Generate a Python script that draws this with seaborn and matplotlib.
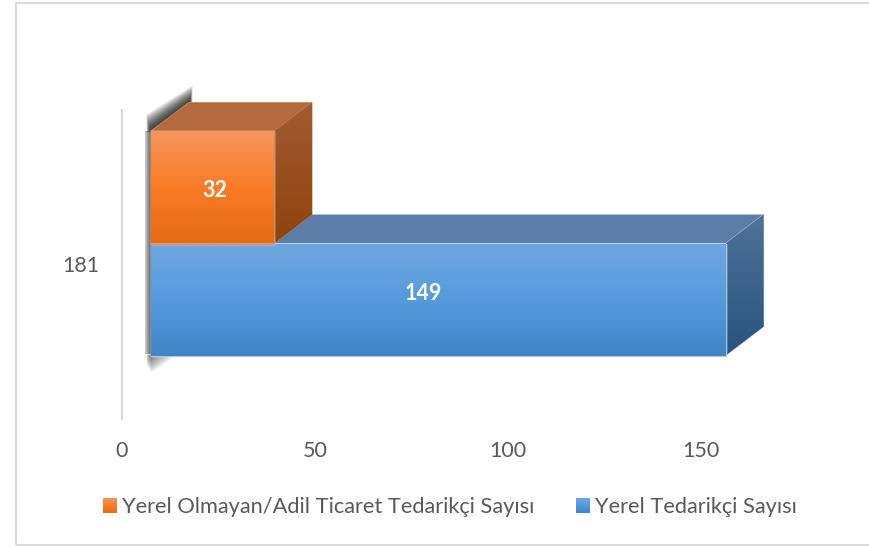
import numpy as np
import pandas as pd
import matplotlib
matplotlib.use("Agg")
import matplotlib.pyplot as plt
import seaborn as sns
from matplotlib.colors import to_rgb
from matplotlib.patches import Patch, Polygon, Rectangle
from matplotlib.transforms import Affine2D, IdentityTransform

# chart data
categories = ["181"]
series_names = ["Yerel Olmayan/Adil Ticaret Tedarikçi Sayısı", "Yerel Tedarikçi Sayısı"]
series_values = [32, 149]
x_ticks = [0, 50, 100, 150]

# colours: top / middle / bottom of each face
FRONT = [["#F5955F", "#FA7C26", "#E46A13"], ["#71A6DF", "#559BDD", "#4085C6"]]
SIDE = [["#A25C33", "#8F430E"], ["#4F7298", "#275480"]]
TOP = ["#B5693F", "#5A7EA8"]
EDGE = ["#C48760", "#A8C8E8"]
TEXT = "#595959"
LINE = "#D9D9D9"

W, H = 870, 547
DEPTH = (38, 29)        # px, 3D depth of the boxes
WALL = (28.5, 21)       # px, front faces sit off the axis


def px(x, y):
    # picture pixel -> display coords
    return x, H - y


def gradient_face(ax, pts, stops, zorder, edge=None):
    pts = np.asarray(pts)
    poly = Polygon(pts, closed=True, transform=IdentityTransform(), facecolor=stops[0],
                   edgecolor=edge or "none", linewidth=0.6, zorder=zorder, clip_on=False)
    ax.add_patch(poly)
    if len(stops) > 1:
        pos = np.linspace(0, 1, 64)
        anchors = np.linspace(0, 1, len(stops))
        rgb = np.array([to_rgb(c) for c in stops])
        img = np.stack([np.interp(pos, anchors, rgb[:, i]) for i in range(3)], axis=1)[:, None, :]
        extent = (pts[:, 0].min(), pts[:, 0].max(), pts[:, 1].min(), pts[:, 1].max())
        im = ax.imshow(img, extent=extent, origin="upper", aspect="auto", transform=IdentityTransform(),
                       zorder=zorder + 0.1, interpolation="bilinear")
        im.set_clip_box(fig.bbox)
        im.set_clip_path(poly)
    return poly


def soft_poly(ax, pts, alpha):
    ax.add_patch(Polygon(pts, closed=True, transform=IdentityTransform(), facecolor="black", edgecolor="none",
                         alpha=alpha, zorder=1, clip_on=False))


sns.set_style("white")
plt.rcParams["font.family"] = ["Lato", "DejaVu Sans"]

df = pd.DataFrame({
    "kategori": categories * len(series_names),
    "seri": series_names,
    "deger": series_values,
})

fig = plt.figure(figsize=(W / 100, H / 100), dpi=100)
ax = fig.add_axes([122 / W, 1 - 419 / H, 579 / 150 * 165 / W, 309 / H])
ax.patch.set_alpha(0)

sns.barplot(data=df, y="kategori", x="deger", hue="seri", hue_order=series_names,
            palette=[f[1] for f in FRONT], width=0.725, gap=0, legend=False, saturation=1, ax=ax)

ax.set_xlim(0, 165)
ax.set_ylim(0.5, -0.5)
ax.set_autoscale_on(False)
ax.set_xticks(x_ticks)
ax.set(xlabel="", ylabel="")
ax.tick_params(axis="both", length=0, labelsize=15.5, labelcolor=TEXT)
ax.tick_params(axis="x", pad=15.5)
ax.tick_params(axis="y", pad=16)
sns.despine(ax=ax, left=False, bottom=True)
ax.spines["left"].set_color(LINE)
ax.spines["left"].set_linewidth(1.5)

front = ax.transData + Affine2D().translate(WALL[0], WALL[1])

# shadow on the back wall, under the boxes
blue_bar = ax.containers[1][0]
orange_bar = ax.containers[0][0]
ox0, oy0 = front.transform((orange_bar.get_x(), orange_bar.get_y()))
bx0, by1 = front.transform((blue_bar.get_x(), blue_bar.get_y() + blue_bar.get_height()))
for t in np.linspace(1, 0.06, 16):
    d = 17 * t
    soft_poly(ax, [(ox0 - 4 * t, oy0 - 1), (ox0 + DEPTH[0] + 1 + 3 * t, oy0 + DEPTH[1]),
                   (ox0 + DEPTH[0] + 1 + 3 * t, oy0 + DEPTH[1] + d), (ox0 - 4 * t, oy0 + d)], 0.08)
for d in np.linspace(6, 1, 7):
    soft_poly(ax, [(ox0 - d, oy0), (ox0, oy0), (bx0, by1 + 2), (bx0 - d, by1 + 2)], 0.11)
for t in np.linspace(1, 0.1, 9):
    soft_poly(ax, [(bx0 - 4 * t, by1 + 1), (bx0 + 27 * t, by1 + 1), (bx0 + 1, by1 - 17 * t),
                   (bx0 - 4 * t, by1 - 8 * t)], 0.07)

# the 3D boxes, built on the seaborn bars; blue goes first so orange sits on top of it
for idx, z in ((1, 2), (0, 5)):
    bar = ax.containers[idx][0]
    x0, y_top = front.transform((bar.get_x(), bar.get_y()))
    x1, y_bot = front.transform((bar.get_x() + bar.get_width(), bar.get_y() + bar.get_height()))
    dx, dy = DEPTH
    gradient_face(ax, [(x0, y_top), (x0 + dx, y_top + dy), (x1 + dx, y_top + dy), (x1, y_top)],
                  [TOP[idx]], z, EDGE[idx])
    gradient_face(ax, [(x1, y_top), (x1 + dx, y_top + dy), (x1 + dx, y_bot + dy), (x1, y_bot)],
                  SIDE[idx], z, EDGE[idx])
    bar.set_transform(front)
    bar.set_zorder(z + 1)
    gradient_face(ax, [(x0, y_top), (x1, y_top), (x1, y_bot), (x0, y_bot)], FRONT[idx], z + 1, EDGE[idx])

# value labels, Excel leaves them off the bar centres
label_nudges = [(3, -3), (-15, 6)]
for idx, val in enumerate(series_values):
    bar = ax.containers[idx][0]
    xy = (bar.get_x() + bar.get_width() / 2, bar.get_y() + bar.get_height() / 2)
    ax.annotate(str(val), xy=xy, xycoords=front, xytext=label_nudges[idx], textcoords="offset pixels",
                ha="center", va="center", color="white", fontsize=15.5, fontweight="bold", zorder=10)

# legend, swatches get their gradient after the layout is known
handles = [Patch(facecolor=f[1], label=n) for f, n in zip(FRONT, series_names)]
leg = ax.legend(handles=handles, ncols=2, loc="center", bbox_to_anchor=(450 / W, 1 - 507 / H),
                bbox_transform=fig.transFigure, frameon=False, fontsize=15.7, labelcolor=TEXT,
                handlelength=0.65, handleheight=0.65, handletextpad=0.23, columnspacing=1.9, borderpad=0)
leg.set_zorder(6)
fig.canvas.draw()
for patch, stops in zip(leg.get_patches(), FRONT):
    bb = patch.get_window_extent()
    patch.set_alpha(0)
    gradient_face(ax, [(bb.x0, bb.y1), (bb.x1, bb.y1), (bb.x1, bb.y0), (bb.x0, bb.y0)], stops, 11)

# outer chart frame, right side runs off the picture
fx0, fy0 = px(16, 545)
fx1, fy1 = px(890, 3)
fig.add_artist(Rectangle((fx0, fy0), fx1 - fx0, fy1 - fy0, transform=IdentityTransform(), fill=False,
                         edgecolor=LINE, linewidth=1.5))

fig.savefig("out.png", dpi=100)
